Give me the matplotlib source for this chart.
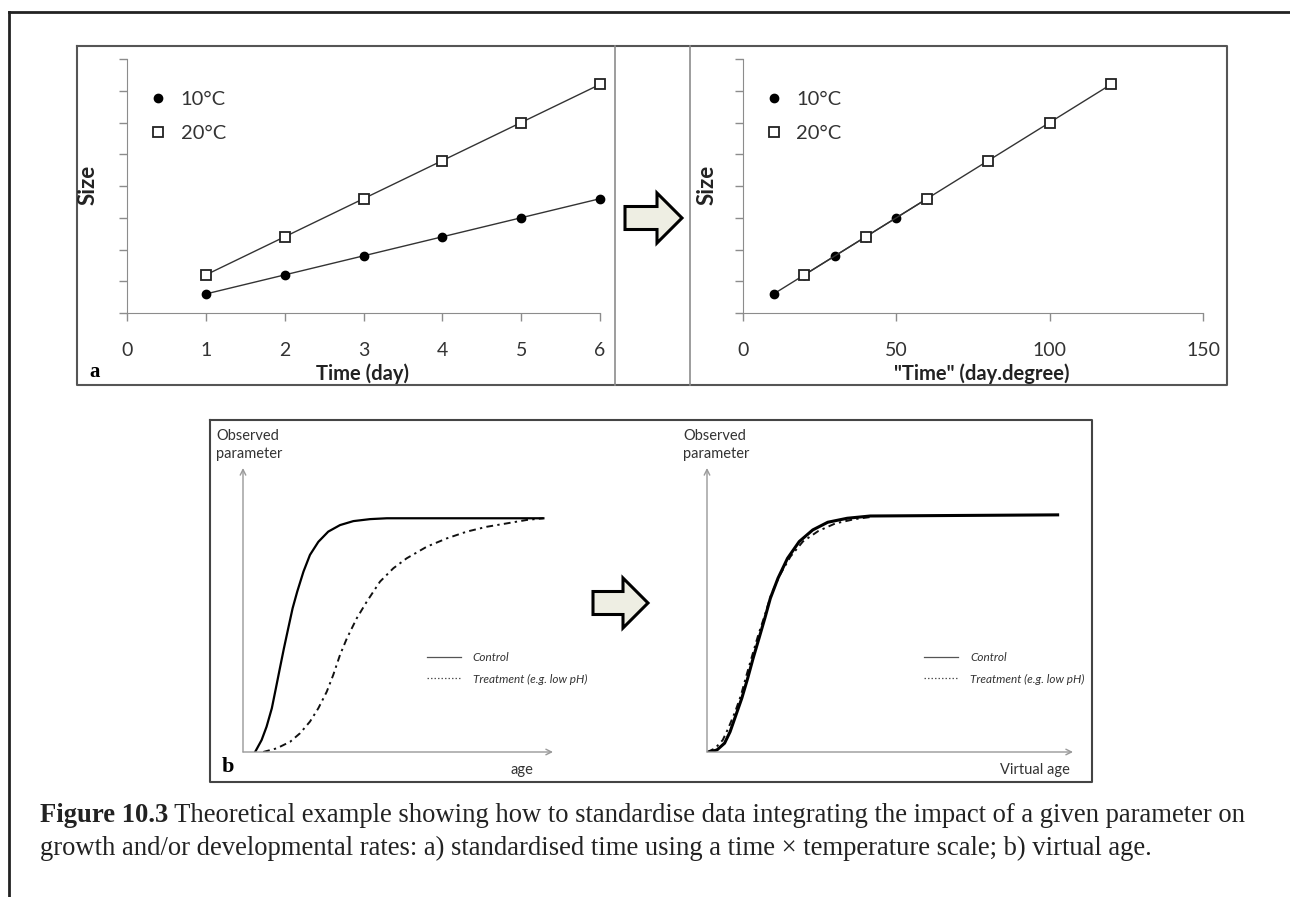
import matplotlib
matplotlib.use("Agg")
import matplotlib.pyplot as plt
from matplotlib.lines import Line2D
from matplotlib.patches import FancyArrow

plt.rcParams['font.family'] = ['Lato', 'DejaVu Sans']

# ---- data: panel a ----
days = [1, 2, 3, 4, 5, 6]
size_10 = [0.6, 1.2, 1.8, 2.4, 3.0, 3.6]
size_20 = [1.2, 2.4, 3.6, 4.8, 6.0, 7.2]
degdays_10 = [10, 20, 30, 40, 50, 60]
degdays_20 = [20, 40, 60, 80, 100, 120]
labels_a = ['10°C', '20°C']

# ---- data: panel b (arbitrary units) ----
ctrl_age = [0.39, 0.60, 0.76, 0.93, 1.06, 1.19, 1.32, 1.46, 1.60, 1.75, 1.95,
            2.16, 2.43, 2.75, 3.13, 3.56, 4.10, 4.64, 9.69]
ctrl_val = [0, 0.42, 0.89, 1.54, 2.24, 2.95, 3.65, 4.36, 5.06, 5.65, 6.35,
            6.94, 7.40, 7.76, 7.99, 8.13, 8.20, 8.23, 8.23]
trt_age = [0.65, 1.09, 1.52, 1.84, 2.16, 2.43, 2.70, 2.91, 3.13, 3.35, 3.67,
           3.99, 4.42, 4.85, 5.28, 5.93, 6.57, 7.22, 7.86, 8.51, 9.15, 9.69]
trt_val = [0, 0.13, 0.36, 0.66, 1.07, 1.54, 2.12, 2.71, 3.42, 4.00, 4.71,
           5.29, 6.00, 6.47, 6.82, 7.23, 7.52, 7.76, 7.93, 8.05, 8.17, 8.23]

ctrl_vage = [0.06, 0.27, 0.48, 0.63, 0.79, 0.95, 1.11, 1.26, 1.42, 1.58, 1.73,
             1.94, 2.20, 2.52, 2.89, 3.30, 3.83, 4.46, 9.58]
ctrl_vval = [0, 0.07, 0.31, 0.71, 1.30, 1.89, 2.59, 3.30, 4.00, 4.71, 5.41,
             6.12, 6.82, 7.41, 7.82, 8.09, 8.23, 8.31, 8.35]
trt_vage = [0.01, 0.22, 0.43, 0.58, 0.77, 0.93, 1.08, 1.24, 1.40, 1.58, 1.75,
            1.99, 2.28, 2.62, 3.04, 3.51, 4.04, 4.51]
trt_vval = [0, 0.13, 0.42, 0.83, 1.42, 2.01, 2.71, 3.42, 4.12, 4.82, 5.53,
            6.23, 6.88, 7.41, 7.78, 8.05, 8.20, 8.28]
labels_b = ['Control', 'Treatment (e.g. low pH)']

caption_bold = 'Figure 10.3'
caption_1 = ('Theoretical example showing how to standardise data integrating '
             'the impact of a given parameter on')
caption_2 = ('growth and/or developmental rates: a) standardised time using a '
             'time \u00d7 temperature scale; b) virtual age.')

W, H = 1290, 897
fig = plt.figure(figsize=(W / 100, H / 100), dpi=100)


def rect(x0, y0, x1, y1):
    # pixel box (top-left origin) -> figure fraction
    return [x0 / W, 1 - y1 / H, (x1 - x0) / W, (y1 - y0) / H]


def T(x, y, s, **kw):
    return fig.text(x / W, 1 - y / H, s, **kw)


# overlay for frames, dividers and arrows
ov = fig.add_axes([0, 0, 1, 1], zorder=0)
ov.set_xlim(0, W)
ov.set_ylim(H, 0)
ov.axis('off')

ov.plot([9, W], [12, 12], color='#222', lw=2)
ov.plot([9, 9], [12, H], color='#222', lw=2)
ov.plot([77, 1227, 1227, 77, 77], [46, 46, 385, 385, 46], color='#555', lw=1.5)
ov.plot([615, 615], [46, 385], color='#8c8c8c', lw=1.2)
ov.plot([690, 690], [46, 385], color='#8c8c8c', lw=1.2)
ov.plot([210, 1092, 1092, 210, 210], [420, 420, 782, 782, 420], color='#444', lw=1.5)

for x0, y0, dx in [(625, 218, 57), (593, 603, 55)]:
    ov.add_patch(FancyArrow(x0, y0, dx, 0, width=23, head_width=50,
                            head_length=25, length_includes_head=True,
                            facecolor='#eeeee3', edgecolor='black', lw=2.2))

# ---- panel a ----
axA = fig.add_axes(rect(127, 59, 600, 313))
axB = fig.add_axes(rect(743, 59, 1203, 313))

for ax, x10, x20, xmax, xt in [(axA, days, days, 6, range(7)),
                               (axB, degdays_10, degdays_20, 150, [0, 50, 100, 150])]:
    ax.set_facecolor('none')
    ax.plot(x10, size_10, color='#333', lw=1, marker='o', ms=6,
            mfc='black', mec='black', clip_on=False)
    ax.plot(x20, size_20, color='#333', lw=1, marker='s', ms=7.5,
            mfc='white', mec='#222', mew=1.3, clip_on=False)
    ax.set_xlim(0, xmax)
    ax.set_ylim(0, 8)
    ax.set_xticks(list(xt))
    ax.set_yticks(range(9))
    ax.set_yticklabels([])
    for s in ['top', 'right']:
        ax.spines[s].set_visible(False)
    for s in ['left', 'bottom']:
        ax.spines[s].set_color('#8c8c8c')
    ax.tick_params(direction='out', length=6, width=1, color='#8c8c8c')
    ax.tick_params(axis='x', labelsize=14, pad=15, labelcolor='#333')
    h10 = Line2D([], [], ls='none', marker='o', ms=6, color='black')
    h20 = Line2D([], [], ls='none', marker='s', ms=7.5, mfc='white',
                 mec='#222', mew=1.3)
    leg = ax.legend([h10, h20], labels_a, loc='upper left',
                    bbox_to_anchor=(0.045, 0.875), frameon=False,
                    handlelength=1.0, handletextpad=0.6, labelspacing=0.85,
                    borderpad=0, borderaxespad=0, prop=dict(size=14.5))
    for t in leg.get_texts():
        t.set_color('#333')

T(88, 185, 'Size', rotation=90, ha='center', va='center', fontsize=16,
  fontweight='bold', color='#222')
T(707, 185, 'Size', rotation=90, ha='center', va='center', fontsize=16,
  fontweight='bold', color='#222')
T(363, 374, 'Time (day)', ha='center', va='center', fontsize=14.5,
  fontweight='bold', color='#222')
T(982, 374, '"Time" (day.degree)', ha='center', va='center', fontsize=14.5,
  fontweight='bold', color='#222')
T(95, 372, 'a', ha='center', va='center', fontsize=15, fontweight='bold',
  family='Liberation Serif')

# ---- panel b ----
axL = fig.add_axes(rect(243, 468, 553, 752))
axR = fig.add_axes(rect(707, 468, 1073, 752))

for ax, cx, cy, tx, ty, clw in [(axL, ctrl_age, ctrl_val, trt_age, trt_val, 1.6),
                                (axR, ctrl_vage, ctrl_vval, trt_vage, trt_vval, 2.2)]:
    ax.set_facecolor('none')
    ax.set_xlim(0, 10)
    ax.set_ylim(0, 10)
    ax.axis('off')
    arr = dict(arrowstyle='->', color='#999', lw=1, shrinkA=0, shrinkB=0)
    ax.annotate('', xy=(0, 1), xytext=(0, 0), xycoords='axes fraction', arrowprops=arr)
    ax.annotate('', xy=(1, 0), xytext=(0, 0), xycoords='axes fraction', arrowprops=arr)
    ax.plot(tx, ty, color='#111', lw=1.4, ls=(0, (3.5, 2.2, 1.2, 2.2)))
    ax.plot(cx, cy, color='black', lw=clw)
    hc = Line2D([], [], color='#555', lw=0.9)
    ht = Line2D([], [], color='#555', lw=0.9, ls=(0, (1.2, 1.6)))
    leg = ax.legend([hc, ht], labels_b, loc='center left',
                    bbox_to_anchor=(0.593, 0.295), frameon=False,
                    handlelength=2.9, handletextpad=1.0, labelspacing=0.9,
                    borderpad=0, borderaxespad=0,
                    prop=dict(size=8.5, style='italic'))
    for t in leg.get_texts():
        t.set_color('#333')

T(216, 445, 'Observed\nparameter', ha='left', va='center', fontsize=10.5,
  color='#333', linespacing=1.35)
T(683, 445, 'Observed\nparameter', ha='left', va='center', fontsize=10.5,
  color='#333', linespacing=1.35)
T(522, 770, 'age', ha='center', va='center', fontsize=10.5, color='#333')
T(1035, 770, 'Virtual age', ha='center', va='center', fontsize=10.5, color='#333')
T(228, 767, 'b', ha='center', va='center', fontsize=16, fontweight='bold',
  family='Liberation Serif')

# ---- caption, sized to the reference line width ----
renderer = fig.canvas.get_renderer()
fs = 16.0
tb = T(40, 815, caption_bold, ha='left', va='center', fontsize=fs,
       fontweight='bold', family='Liberation Serif', color='#222')
t1 = T(0, 815, ' ' + caption_1, ha='left', va='center', fontsize=fs,
       family='Liberation Serif', color='#222')
t2 = T(40, 848, caption_2, ha='left', va='center', fontsize=fs,
       family='Liberation Serif', color='#222')
wb = tb.get_window_extent(renderer).width
w1 = t1.get_window_extent(renderer).width
fs = fs * 1210 / (wb + w1)
for t in (tb, t1, t2):
    t.set_fontsize(fs)
wb = tb.get_window_extent(renderer).width
t1.set_x((40 + wb) / W)

fig.savefig('out.png', dpi=100)
